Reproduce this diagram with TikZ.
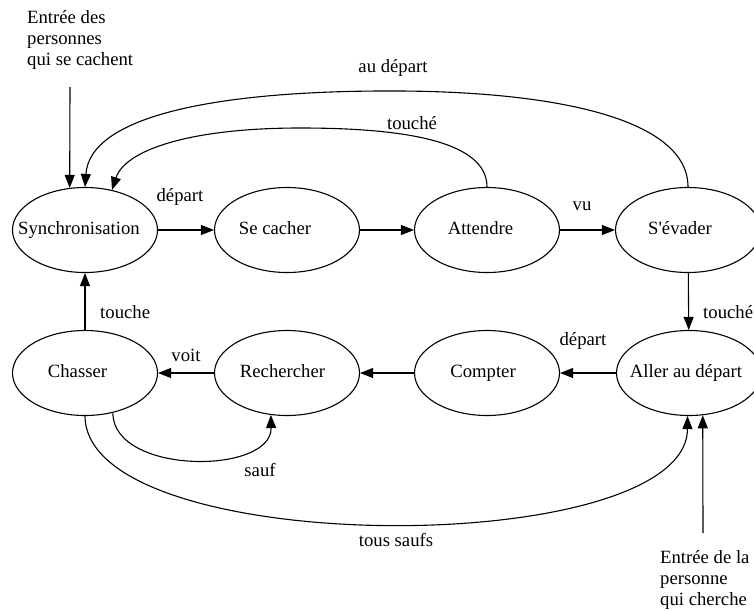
\documentclass[tikz,border=0pt]{standalone}
\usepackage{fontspec}
\newfontfamily\gvfont{Liberation Serif}
\usetikzlibrary{shapes.geometric,arrows.meta}
\newcommand{\stxt}[2]{\makebox[0pt]{#1\hspace*{#2}}}
\begin{document}
\begin{tikzpicture}[x=1pt,y=-1pt,
  gv/.style={font=\gvfont\fontsize{18.7pt}{21pt}\selectfont},
  st/.style={gv,draw,ellipse,line width=1.1pt,minimum width=145pt,minimum height=85pt,inner sep=0pt,text height=12pt,text depth=4pt},
  lbl/.style={gv,inner sep=0pt},
  edge/.style={line width=1.1pt,-{Triangle[length=13pt,width=10pt]}}
  ]
\useasboundingbox (0,0) rectangle (754,610);
\clip (0,0) rectangle (754,610);
% states
\node[st] (sync) at (85,230) {\stxt{Synchronisation}{12pt}};
\node[st] (cach) at (287,230) {\stxt{Se cacher}{24pt}};
\node[st] (att)  at (487,230) {\stxt{Attendre}{13pt}};
\node[st] (sev)  at (688,230) {\stxt{S'évader}{16pt}};
\node[st] (chas) at (85,373) {\stxt{Chasser}{15pt}};
\node[st] (rech) at (287,373) {\stxt{Rechercher}{9pt}};
\node[st] (comp) at (487,373) {\stxt{Compter}{8pt}};
\node[st] (all)  at (689,373) {\stxt{Aller au départ}{6pt}};
% entry texts
\node[lbl,align=left,anchor=west] (in1) at (27,40) {Entrée des\\personnes\\qui se cachent};
\node[lbl,align=left,anchor=west] (in2) at (660,580) {Entrée de la\\personne\\qui cherche};
\coordinate (e1) at (70,87);
\coordinate (e2) at (703,533);
% edges
\draw[edge] (e1) -- (sync.110);
\draw[edge] (e2) -- (all.-72);
\draw[edge] (sync) -- (cach);
\draw[edge] (cach) -- (att);
\draw[edge] (att) -- (sev);
\draw[edge] (sev) -- (all);
\draw[edge] (all) -- (comp);
\draw[edge] (comp) -- (rech);
\draw[edge] (rech) -- (chas);
\draw[edge] (chas) -- (sync);
\draw[edge] (sev.north) .. controls (688,120) and (560,92) .. (400,91)
  .. controls (220,90) and (90,115) .. (sync.north);
\draw[edge] (att.north) .. controls (487,140) and (400,128) .. (300,128)
  .. controls (190,128) and (125,150) .. (sync.56);
\draw[edge] (chas.-55) .. controls (113,475) and (272,475) .. (rech.-111);
\draw[edge] (chas.south) .. controls (86,560) and (687,560) .. (all.-92);
% labels
\node[lbl] (l1) at (180,197) {départ};
\node[lbl] (l2) at (582,206) {vu};
\node[lbl] (l3) at (393,68) {au départ};
\node[lbl] (l4) at (412,123) {touché};
\node[lbl,anchor=west] (l5) at (703,312) {touché};
\node[lbl] (l6) at (583,341) {départ};
\node[lbl] (l7) at (186,355) {voit};
\node[lbl,anchor=west] (l8) at (100,312) {touche};
\node[lbl] (l9) at (260,470) {sauf};
\node[lbl] (l10) at (396,540) {tous saufs};
\end{tikzpicture}
\end{document}
